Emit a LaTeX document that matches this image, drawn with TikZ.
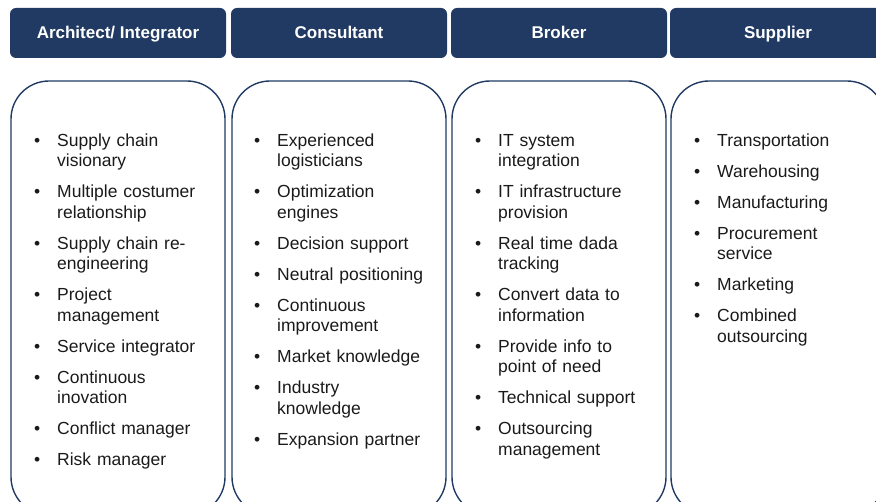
\documentclass[tikz,border=0pt]{standalone}
\usepackage{fontspec}
\setmainfont{Liberation Sans}
\usetikzlibrary{positioning}

\definecolor{navy}{HTML}{213A63}
\definecolor{ink}{HTML}{1A1A1A}

\newenvironment{roles}{%
  \setlength{\leftmargini}{20pt}%
  \begin{itemize}%
  \setlength{\labelsep}{17pt}\setlength{\labelwidth}{6pt}%
  \setlength{\itemsep}{10.5pt}\setlength{\parsep}{0pt}%
  \setlength{\topsep}{0pt}\setlength{\parskip}{0pt}}%
  {\end{itemize}}

\begin{document}
\begin{tikzpicture}[x=1pt,y=-1pt,
            head/.style={fill=navy,rounded corners=6pt,minimum width=216pt,minimum height=50pt,
              text=white,font=\bfseries\fontsize{17}{20}\selectfont,inner sep=0pt,
              text height=12pt,text depth=0pt},
            panel/.style={draw=navy,line width=1.4pt,rounded corners=38pt,minimum width=214pt,minimum height=434pt},
            roleslist/.style={anchor=base west,text width=185pt,align=left,inner sep=0pt,text=ink,
              font=\fontsize{17.5}{20.5}\selectfont}]
                \useasboundingbox (0,0) rectangle (876,502);
                \clip (0,0) rectangle (876,502);

                \node[head](hArch) at (118,33) {Architect/ Integrator};
                \node[head](hCons) at (339,33) {Consultant};
                \node[head](hBrok) at (559,33) {Broker};
                \node[head](hSupp) at (778,33) {Supplier};

                \node[panel](pArch) at (118,298) {};
                \node[panel](pCons) at (339,298) {};
                \node[panel](pBrok) at (559,298) {};
                \node[panel](pSupp) at (778,298) {};

                \node[roleslist](lArch) at (37,118) {\begin{roles}
                    \item Supply chain\\visionary
                    \item Multiple costumer\\relationship
                    \item Supply chain re-\\engineering
                    \item Project\\management
                    \item Service integrator
                    \item Continuous\\inovation
                    \item Conflict manager
                    \item Risk manager
                  \end{roles}};
                \node[roleslist](lCons) at (257,118) {\begin{roles}
                    \item Experienced\\logisticians
                    \item Optimization\\engines
                    \item Decision support
                    \item Neutral positioning
                    \item Continuous\\improvement
                    \item Market knowledge
                    \item Industry\\knowledge
                    \item Expansion partner
                  \end{roles}};
                \node[roleslist](lBrok) at (478,118) {\begin{roles}
                    \item IT system\\integration
                    \item IT infrastructure\\provision
                    \item Real time dada\\tracking
                    \item Convert data to\\information
                    \item Provide info to\\point of need
                    \item Technical support
                    \item Outsourcing\\management
                  \end{roles}};
                \node[roleslist](lSupp) at (697,118) {\begin{roles}
                    \item Transportation
                    \item Warehousing
                    \item Manufacturing
                    \item Procurement\\service
                    \item Marketing
                    \item Combined\\outsourcing
                  \end{roles}};
        \end{tikzpicture}
\end{document}
